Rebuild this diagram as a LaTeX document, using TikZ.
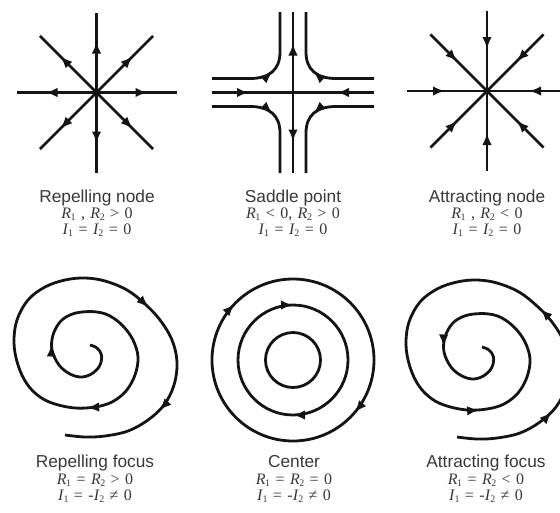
\documentclass[tikz,border=0pt]{standalone}
\usepackage{fontspec}
\newfontfamily\lab{Liberation Sans}
\newfontfamily\tms{Liberation Serif}
\usetikzlibrary{arrows.meta,decorations.markings,calc}
\newcommand\sbs[1]{\kern-0.03em\raisebox{-0.3ex}{\fontsize{10}{10}\selectfont #1}}
\newcommand\vR{\textit{R}}
\newcommand\vI{\textit{I}}
\tikzset{
  ln/.style={line width=2.8pt, draw=black!92},
  tipa/.tip={Latex[length=12pt,width=9.5pt]},
  fw/.style={postaction={decorate,decoration={markings,mark=at position #1 with {\arrow{tipa}}}}},
  ttl/.style={font=\lab\fontsize{17.3}{18}\selectfont, text=black!78, anchor=base, inner sep=0pt},
  eq/.style={font=\tms\fontsize{16}{16}\selectfont, execute at begin node={\spaceskip=0.34em\relax}, text=black!78, anchor=base, inner sep=0pt},
  spiral/.pic={
    \draw[ln, postaction={decorate,decoration={markings,
        mark=at position 98pt with {#1},
        mark=at position 308pt with {#1},
        mark=at position 600pt with {#1},
        mark=at position 716pt with {#1}}}]
      plot[smooth, tension=0.6] coordinates {
        (90,345) (97,348) (101.5,355) (100,365) (93,373) (82,377) (70,374) (59,365)
        (52,350) (53,335) (60,322) (70,315) (82,312) (97,312) (110,316) (123,326)
        (133,340) (138,357) (135,375) (126,391) (112,402) (95,407) (75,408) (55,404)
        (40,397) (27,384) (18,365) (14,343) (17,320) (28,300) (45,287) (65,280)
        (85,278) (105,281) (127,290) (145,304) (160,320) (172,340) (177,362)
        (174,385) (164,405) (148,420) (128,431) (105,436) (85,437) (65,435)};
  }
}
\begin{document}
\begin{tikzpicture}[x=1pt,y=-1pt]
\useasboundingbox (0,0) rectangle (560,512);
\clip (0,0) rectangle (560,512);

% Repelling node
\coordinate (rn) at (96.5,92.5);
\foreach \a in {0,45,...,315} \draw[ln, fw=51pt] (rn) -- ($(rn)+(\a:80)$);

% Saddle point
\coordinate (sp) at (293,92.5);
\draw[ln, fw=-44pt] (212,92.5) -- (sp);
\draw[ln, fw=-44pt] (374,92.5) -- (sp);
\draw[ln, fw=49pt] (sp) -- (293,12);
\draw[ln, fw=49pt] (sp) -- (293,173);
\draw[ln, fw=0.5] (212,78.5) -- (250,78.5) .. controls (269,78.5) and (280,70) .. (280,52) -- (280,12);
\draw[ln, fw=0.5] (374,78.5) -- (336,78.5) .. controls (317,78.5) and (306,70) .. (306,52) -- (306,12);
\draw[ln, fw=0.5] (212,106.5) -- (250,106.5) .. controls (269,106.5) and (280,115) .. (280,133) -- (280,173);
\draw[ln, fw=0.5] (374,106.5) -- (336,106.5) .. controls (317,106.5) and (306,115) .. (306,133) -- (306,173);

% Attracting node
\coordinate (an) at (487,91);
\foreach \a in {0,45,...,315} \draw[ln, fw=-42pt] ($(an)+(\a:80)$) -- (an);

% Foci
\pic (rf) at (0,0) {spiral={\arrow{tipa}}};
\pic (af) at (392,2) {spiral={\arrowreversed{tipa}}};

% Center
\coordinate (cc) at (293,360);
\draw[ln] (cc) circle[radius=27.5];
\draw[ln, postaction={decorate,decoration={markings,
    mark=at position 0.25 with {\arrow{tipa}},
    mark=at position 0.75 with {\arrow{tipa}}}}]
  ($(cc)+(55,0)$) arc[start angle=0, end angle=360, radius=55];
\draw[ln, postaction={decorate,decoration={markings,
    mark=at position 0.112 with {\arrow{tipa}},
    mark=at position 0.621 with {\arrow{tipa}}}}]
  ($(cc)+(81,0)$) arc[start angle=0, end angle=360, radius=81];

% Labels
\node[ttl] (t1) at (97,202) {Repelling node};
\node[eq] (r1) at (97,218.5) {\vR\sbs1 , \vR\sbs2 > 0};
\node[eq] (i1) at (97,234.5) {\vI\sbs1 = \vI\sbs2 = 0};
\node[ttl] (t2) at (293,202) {Saddle point};
\node[eq] (r2) at (293,218.5) {\vR\sbs1 < 0, \vR\sbs2 > 0};
\node[eq] (i2) at (293,234.5) {\vI\sbs1 = \vI\sbs2 = 0};
\node[ttl] (t3) at (487,202) {Attracting node};
\node[eq] (r3) at (487,218.5) {\vR\sbs1 , \vR\sbs2 < 0};
\node[eq] (i3) at (487,234.5) {\vI\sbs1 = \vI\sbs2 = 0};
\node[ttl] (t4) at (95,467.5) {Repelling focus};
\node[eq] (r4) at (95,484) {\vR\sbs1 = \vR\sbs2 > 0};
\node[eq] (i4) at (95,500) {\vI\sbs1 = -\vI\sbs2 ≠ 0};
\node[ttl] (t5) at (294,467.5) {Center};
\node[eq] (r5) at (294,484) {\vR\sbs1 = \vR\sbs2 = 0};
\node[eq] (i5) at (294,500) {\vI\sbs1 = -\vI\sbs2 ≠ 0};
\node[ttl] (t6) at (486,467.5) {Attracting focus};
\node[eq] (r6) at (486,484) {\vR\sbs1 = \vR\sbs2 < 0};
\node[eq] (i6) at (486,500) {\vI\sbs1 = -\vI\sbs2 ≠ 0};
\end{tikzpicture}
\end{document}
